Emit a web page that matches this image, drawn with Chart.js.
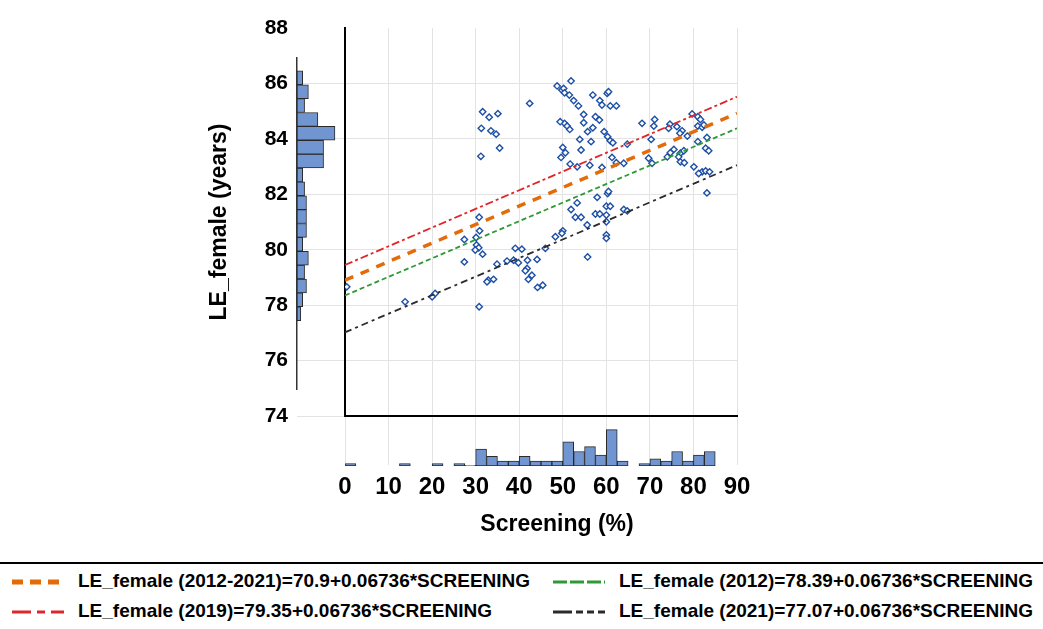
<!DOCTYPE html>
<html>
<head>
<meta charset="utf-8">
<script src="https://cdn.jsdelivr.net/npm/chart.js@4.4.1/dist/chart.umd.min.js"></script>
<style>
  body { margin: 0; background: #fff; width: 1043px; height: 629px; position: relative; overflow: hidden;
         font-family: 'Liberation Sans', Arial, sans-serif; }
  canvas.chart { position: absolute; }
  #mainChart { left: 0; top: 0; }
  #yHist { left: 290px; top: 57px; }
  #xHist { left: 340px; top: 420px; }
  #legendRule { position: absolute; left: 0; top: 562px; width: 1043px; height: 2px; background: #000; }
  .legend-item { position: absolute; display: flex; align-items: center; height: 24px;
                 font-weight: bold; font-size: 19px; color: #000; white-space: nowrap; }
  .legend-item canvas { margin-right: 14px; }
</style>
</head>
<body>
<canvas id="mainChart" class="chart" width="1043" height="560"></canvas>
<canvas id="yHist" class="chart" width="55" height="333"></canvas>
<canvas id="xHist" class="chart" width="402" height="48"></canvas>
<div id="legendRule"></div>
<div id="legend"></div>
<script>
// Scatter: one point per country/year (screening %, female life expectancy)
const screening = [
  31.6, 33.1, 35.1, 31.3, 33.5, 34.7, 35.5, 31.2, 42.4,
  30.8, 30.9, 27.4, 30.1, 30.2, 30.7, 29.9, 31.6, 27.4, 30.8, 34.9, 32.9, 34.1, 32.6,
  20.7, 20.0, 13.8, 0.4, 39.1, 40.6, 37.2, 38.7, 39.8, 41.9, 44.1, 41.8, 41.4, 42.9,
  42.1, 45.4, 44.2, 46.0, 48.3,
  48.7, 49.8, 50.2, 51.9, 50.4, 51.5, 52.5, 53.6, 56.9, 58.5, 60.2, 60.5, 59.0, 60.9,
  62.3, 54.8, 57.5, 58.4, 54.8, 50.4, 51.0, 51.6, 56.9, 55.7, 59.5, 53.9, 56.5, 60.3,
  60.9, 61.5, 64.8, 50.0, 50.6, 54.2, 49.6, 51.7, 53.3, 59.0, 61.3, 49.4,
  56.2, 62.3, 64.0, 60.3, 60.5, 57.9, 53.3, 51.9, 60.0, 60.9, 57.5, 58.5, 60.0, 52.9,
  54.2, 60.0, 64.0, 64.8, 55.6, 50.0, 60.0, 60.0, 55.7, 49.8,
  68.2, 71.1, 70.9, 74.6, 74.3, 76.2, 77.4, 76.9, 78.6, 81.0, 81.6, 81.0, 82.0, 83.1,
  70.3, 75.5, 74.7, 77.0, 77.8, 81.0, 82.8, 83.5, 74.0, 76.6, 77.0, 77.9, 69.7, 70.5,
  82.0, 82.8, 83.7, 80.1, 83.1, 79.7, 82.4, 81.2
];
const leFemale = [
  84.98, 84.78, 84.91, 84.38, 84.29, 84.17, 83.67, 83.37, 85.28,
  81.17, 80.68, 80.37, 80.44, 80.17, 80.07, 79.99, 79.84, 79.56, 77.94, 79.48, 78.90, 78.93, 78.84,
  78.42, 78.30, 78.12, 78.66, 80.05, 80.02, 79.59, 79.62, 79.53, 79.62, 79.65, 79.32, 79.24, 79.08,
  78.93, 78.72, 78.64, 80.05, 80.47,
  85.91, 85.76, 85.82, 86.09, 85.66, 85.58, 85.38, 85.19, 85.58, 85.38, 85.64, 85.70, 85.22, 85.19,
  85.19, 84.88, 84.80, 84.68, 84.58, 84.56, 84.46, 84.34, 84.40, 84.26, 84.26, 83.98, 83.90, 84.08,
  83.93, 83.86, 83.81, 83.69, 83.50, 83.60, 83.33, 83.09, 82.99, 82.97, 83.33, 84.62,
  83.05, 83.14, 83.12, 82.03, 82.10, 81.89, 81.69, 81.45, 81.57, 81.57, 81.29, 81.29, 81.25, 81.17,
  81.17, 81.01, 81.45, 81.40, 80.89, 80.68, 80.53, 80.41, 79.74, 80.59,
  84.56, 84.70, 84.46, 84.53, 84.38, 84.44, 84.29, 84.20, 84.10, 84.80, 84.70, 84.46, 84.42, 84.05,
  83.98, 83.62, 83.50, 83.48, 83.57, 83.90, 83.66, 83.57, 83.35, 83.35, 83.17, 83.14, 83.30, 83.12,
  82.81, 82.84, 82.81, 82.99, 82.05, 84.90, 84.50, 82.75
];

// Fitted lines, read at both ends of the screening axis
const lineLabels = [
  'LE_female (2012-2021)=70.9+0.06736*SCREENING',
  'LE_female (2012)=78.39+0.06736*SCREENING',
  'LE_female (2019)=79.35+0.06736*SCREENING',
  'LE_female (2021)=77.07+0.06736*SCREENING'
];
const lineScreening = [0, 90];
const lineStartLE = [78.9, 78.35, 79.45, 77.02];
const lineEndLE = [84.92, 84.38, 85.52, 83.05];

// Marginal histograms
const xHistBins = [1.25, 3.75, 6.25, 8.75, 11.25, 13.75, 16.25, 18.75, 21.25, 23.75, 26.25, 28.75,
  31.25, 33.75, 36.25, 38.75, 41.25, 43.75, 46.25, 48.75, 51.25, 53.75, 56.25, 58.75, 61.25, 63.75,
  66.25, 68.75, 71.25, 73.75, 76.25, 78.75, 81.25, 83.75];
const xHistCounts = [1, 0, 0, 0, 0, 1, 0, 0, 1, 0, 1, 0.3,
  7, 4, 2, 2, 4, 2, 2, 2, 10, 6, 8, 4.5, 15, 2,
  0, 1, 3, 2, 6, 2, 4.5, 6];
const yHistBins = [77.75, 78.25, 78.75, 79.25, 79.75, 80.25, 80.75, 81.25, 81.75, 82.25, 82.75,
  83.25, 83.75, 84.25, 84.75, 85.25, 85.75, 86.25];
const yHistCounts = [2, 3, 5, 4, 6, 3, 5, 5, 5, 4, 3, 14, 14, 20, 11, 4, 6, 3];

const yTicks = [74, 76, 78, 80, 82, 84, 86, 88];

// Styles for each fitted line: chart dash, and the dash drawn in the legend swatch
const lineStyles = [
  { color: '#e36c0a', width: 3.5, dash: [9, 8], legendWidth: 5, legendDash: [11, 7] },
  { color: '#2e9a36', width: 1.8, dash: [5, 3], legendWidth: 3, legendDash: [14, 3] },
  { color: '#e0262a', width: 1.8, dash: [8, 3, 3, 3], legendWidth: 3, legendDash: [19, 6, 8, 6] },
  { color: '#2b2b2b', width: 1.8, dash: [7, 4, 3, 4], legendWidth: 3, legendDash: [19, 4, 7, 4, 7, 4, 7, 4] }
];

const HIST_FILL = '#7195d1';
const HIST_EDGE = '#2a2a2a';
const GRID = '#e3e3e3';

Chart.defaults.font.family = "'Liberation Sans', Arial, sans-serif";
Chart.defaults.color = '#000';

const points = screening.map((s, i) => ({ x: s, y: leFemale[i] }));

const fitDatasets = lineLabels.map((label, i) => ({
  label: label,
  data: [{ x: lineScreening[0], y: lineStartLE[i] }, { x: lineScreening[1], y: lineEndLE[i] }],
  showLine: true,
  pointRadius: 0,
  borderColor: lineStyles[i].color,
  borderWidth: lineStyles[i].width,
  borderDash: lineStyles[i].dash,
  order: 1
}));

const mainChart = new Chart(document.getElementById('mainChart'), {
  type: 'scatter',
  data: {
    datasets: fitDatasets.concat([{
      label: 'Countries',
      data: points,
      pointStyle: 'rectRot',
      pointRadius: 3.2,
      borderWidth: 1.4,
      borderColor: '#1d4fa5',
      backgroundColor: '#ffffff',
      order: 2
    }])
  },
  options: {
    responsive: false,
    animation: false,
    devicePixelRatio: 1,
    layout: { padding: { left: 200, top: 28, right: 306, bottom: 14 } },
    plugins: { legend: { display: false }, tooltip: { enabled: false } },
    scales: {
      x: {
        type: 'linear',
        min: 0,
        max: 90,
        afterFit: (scale) => { scale.height = 130; },
        ticks: { stepSize: 10, padding: 8, font: { size: 24, weight: 'bold' } },
        grid: { color: GRID, tickLength: 49 },
        border: { color: '#000', width: 2 },
        title: {
          display: true,
          // the title sits a little right of the axis centre in the original
          text: '     Screening (%)',
          font: { size: 23, weight: 'bold' },
          padding: { top: 0, bottom: 8 }
        }
      },
      y: {
        type: 'linear',
        min: yTicks[0],
        max: yTicks[yTicks.length - 1],
        afterFit: (scale) => { scale.width = 145; },
        ticks: { stepSize: 2, padding: 9, font: { size: 21, weight: 'bold' } },
        grid: {
          // no line along the top edge
          color: (ctx) => (ctx.tick && ctx.tick.value === yTicks[yTicks.length - 1]) ? 'rgba(0,0,0,0)' : GRID,
          tickLength: 48
        },
        border: { color: '#000', width: 2 },
        title: {
          display: true,
          text: 'LE_female (years)',
          font: { size: 23, weight: 'bold' },
          padding: { top: 6, bottom: 0 }
        }
      }
    }
  }
});

// Histogram of life expectancy, drawn sideways to the left of the plot
new Chart(document.getElementById('yHist'), {
  type: 'bar',
  data: {
    datasets: [{
      data: yHistBins.map((b, i) => ({ x: yHistCounts[i], y: b })),
      backgroundColor: HIST_FILL,
      borderColor: HIST_EDGE,
      borderWidth: 1,
      borderSkipped: false,
      barPercentage: 1,
      categoryPercentage: 1
    }]
  },
  options: {
    indexAxis: 'y',
    responsive: false,
    animation: false,
    devicePixelRatio: 1,
    layout: { padding: { left: 7, right: 0, top: 0, bottom: 0 } },
    plugins: { legend: { display: false }, tooltip: { enabled: false } },
    scales: {
      y: {
        type: 'linear',
        min: 75,
        max: 87,
        offset: false,
        afterFit: (scale) => { scale.width = 0; },
        ticks: { display: false, stepSize: 1 },
        grid: { display: false, drawTicks: false, offset: false },
        border: { display: true, color: '#333', width: 1.5 }
      },
      x: { type: 'linear', min: 0, max: 25.3, display: false }
    }
  }
});

// Histogram of screening, below the plot
new Chart(document.getElementById('xHist'), {
  type: 'bar',
  data: {
    datasets: [{
      data: xHistBins.map((b, i) => ({ x: b, y: xHistCounts[i] })),
      backgroundColor: HIST_FILL,
      borderColor: HIST_EDGE,
      borderWidth: 1,
      borderSkipped: false,
      barPercentage: 1,
      categoryPercentage: 1
    }]
  },
  options: {
    responsive: false,
    animation: false,
    devicePixelRatio: 1,
    layout: { padding: { left: 5, right: 5, top: 0, bottom: 2 } },
    plugins: { legend: { display: false }, tooltip: { enabled: false } },
    scales: {
      x: {
        type: 'linear', min: 0, max: 90, offset: false, display: false,
        ticks: { stepSize: 10 }, grid: { offset: false }
      },
      y: { type: 'linear', min: 0, max: 19, display: false }
    }
  }
});

/**
 * Builds the two-column legend under the rule from the fitted-line datasets.
 */
function buildLegend(chart) {
  const legendEl = document.getElementById('legend');
  const colLeft = [12, 553];
  const rowTop = [569, 599];
  chart.data.datasets.filter(ds => ds.showLine).forEach((ds, i) => {
    const style = lineStyles[i];
    const item = document.createElement('div');
    item.className = 'legend-item';
    item.style.left = colLeft[i % 2] + 'px';
    item.style.top = rowTop[Math.floor(i / 2)] + 'px';

    const swatch = document.createElement('canvas');
    swatch.width = 52;
    swatch.height = 14;
    const ctx = swatch.getContext('2d');
    ctx.strokeStyle = style.color;
    ctx.lineWidth = style.legendWidth;
    ctx.setLineDash(style.legendDash);
    ctx.beginPath();
    ctx.moveTo(0, 8);
    ctx.lineTo(52, 8);
    ctx.stroke();
    item.appendChild(swatch);

    const text = document.createElement('span');
    text.textContent = ds.label;
    item.appendChild(text);
    legendEl.appendChild(item);
  });
}

buildLegend(mainChart);
</script>
</body>
</html>
